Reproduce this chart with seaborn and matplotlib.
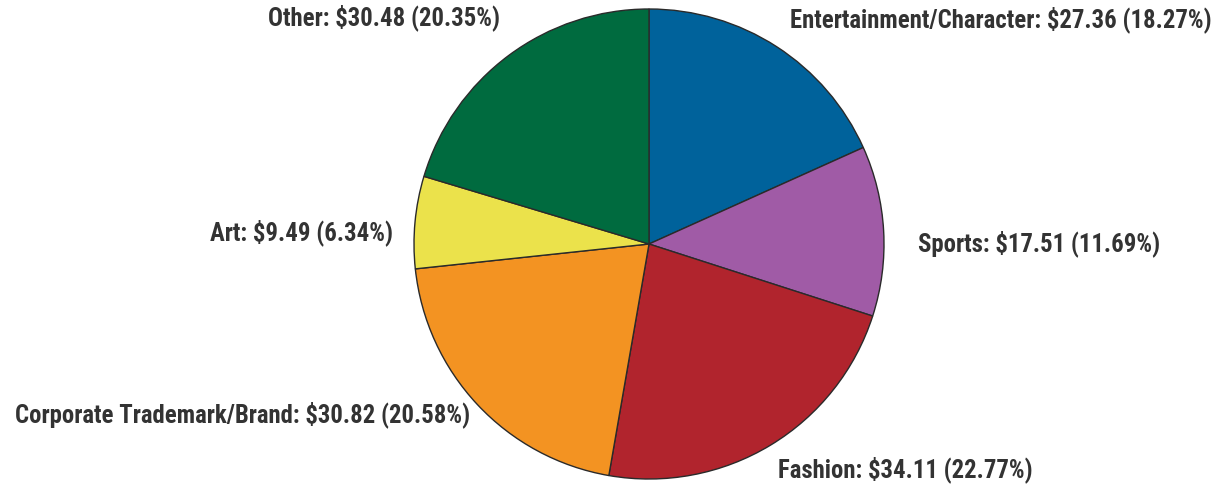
import matplotlib
matplotlib.use("Agg")
import matplotlib.pyplot as plt
import seaborn as sns
from matplotlib import font_manager

categories = ["Entertainment/Character", "Sports", "Fashion",
              "Corporate Trademark/Brand", "Art", "Other"]
values = [27.36, 17.51, 34.11, 30.82, 9.49, 30.48]
percents = [18.27, 11.69, 22.77, 20.58, 6.34, 20.35]
colors = ["#00629b", "#a05ba6", "#b1242d", "#f39322", "#ebe24b", "#006b3f"]

sns.set_theme(style="white")

def wnum(w):
    if isinstance(w, int):
        return w
    return {"bold": 700, "semibold": 600, "demibold": 600, "heavy": 800,
            "black": 900, "extra bold": 800}.get(str(w).lower(), 400)

cands = []
for f in font_manager.fontManager.ttflist:
    cond = ("Narrow" in f.name or "Condensed" in f.name or
            "condensed" in str(f.stretch) or "Condensed" in f.fname)
    if cond and 600 <= wnum(f.weight) <= 750 and "italic" not in f.style:
        cands.append(f)
pref = ["Liberation Sans Narrow", "Roboto Condensed", "Open Sans Condensed",
        "DejaVu Sans Condensed", "DejaVu Sans"]
chosen = None
for p in pref:
    for f in cands:
        if f.name == p:
            chosen = f
            break
    if chosen:
        break
if chosen is None and cands:
    chosen = cands[0]

if chosen is not None:
    fprop = font_manager.FontProperties(fname=chosen.fname)
else:
    fprop = font_manager.FontProperties(family="DejaVu Sans", weight="bold",
                                        stretch="condensed")

W, H = 1225, 485
fig = plt.figure(figsize=(W / 100, H / 100), dpi=100)
ax = fig.add_axes([0, 0, 1, 1])

cx, cy, R = 649, 245, 235

ax.pie(values, colors=colors, startangle=90, counterclock=False,
       radius=1.0, center=(0, 0),
       wedgeprops=dict(edgecolor="#2a2a2a", linewidth=1.0))

def to_data(px, py):
    return (px - cx) / R, (cy - py) / R

# label anchor positions in pixels (x, y, ha)
label_pos = [(790, 20, "left"), (918, 244, "left"), (778, 470, "left"),
             (470, 415, "right"), (393, 233, "right"), (500, 18, "right")]

fig.canvas.draw()
renderer = fig.canvas.get_renderer()
target_w = 422  # width of Entertainment label in reference
fp = fprop.copy()
fp.set_size(15)
probe = ax.text(0, 0, f"{categories[0]}: ${values[0]:.2f} ({percents[0]:.2f}%)",
                fontproperties=fp)
w = probe.get_window_extent(renderer).width
probe.remove()
fs = min(18.5, 15 * target_w / w)
fp.set_size(fs)

for cat, v, p, (px, py, ha) in zip(categories, values, percents, label_pos):
    x, y = to_data(px, py)
    ax.text(x, y, f"{cat}: ${v:.2f} ({p:.2f}%)", ha=ha, va="center",
            fontproperties=fp, color="#333333")

ax.set_xlim(-cx / R, (W - cx) / R)
ax.set_ylim((cy - H) / R, cy / R)
ax.set_aspect("equal")
ax.axis("off")

fig.savefig("out.png", dpi=100, facecolor="white")
